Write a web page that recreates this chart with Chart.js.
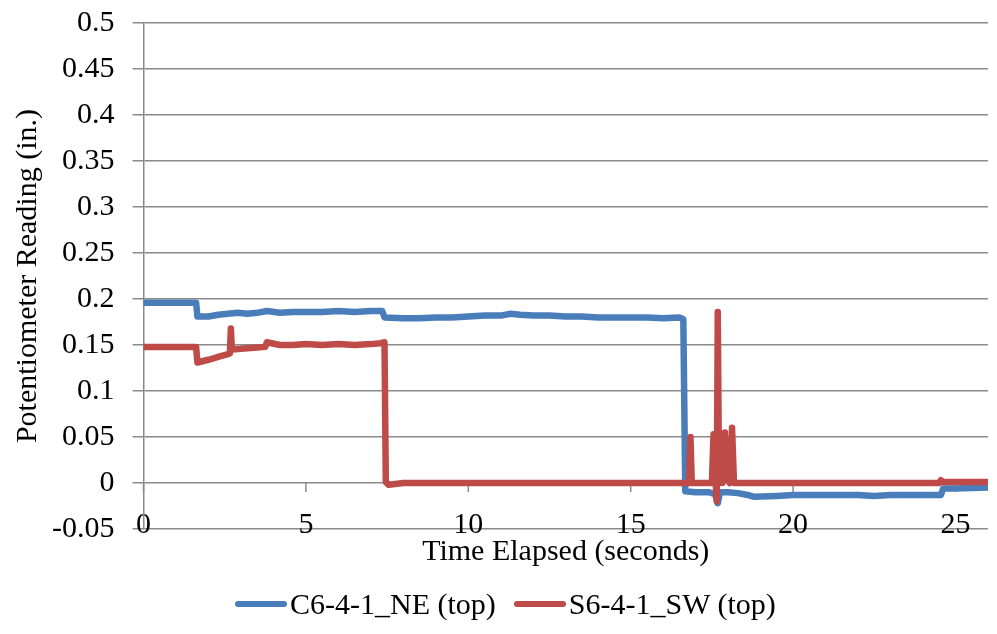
<!DOCTYPE html>
<html><head><meta charset="utf-8">
<script src="https://cdn.jsdelivr.net/npm/chart.js@4.4.1/dist/chart.umd.min.js"></script>
<style>
html,body{margin:0;padding:0;background:#fff;}
#wrap{position:relative;width:997px;height:634px;overflow:hidden;}
#legend{position:absolute;left:0;top:586px;height:36px;display:flex;align-items:center;padding-left:235px;font-family:"Liberation Serif","Times New Roman",serif;font-size:30px;color:#000;white-space:nowrap;}
.item{display:flex;align-items:center;margin-right:18px;}
.swatch{display:inline-block;width:52px;height:6px;border-radius:3px;margin-right:3px;}
</style></head>
<body><div id="wrap"><canvas id="c" width="997" height="634"></canvas><div id="legend"></div></div>
<script>
const seriesNames = ['C6-4-1_NE (top)', 'S6-4-1_SW (top)'];
const seriesColors = ['#4a7ebb', '#be4b48'];

const neTime = [0, 0.5, 1.0, 1.62, 1.66, 2.0, 2.3, 2.6, 2.9, 3.2, 3.5, 3.8, 4.2, 4.6, 5.0, 5.5, 6.0, 6.5, 7.0, 7.35, 7.42, 8.0, 8.5, 9.0, 9.5, 10.0, 10.5, 11.0, 11.3, 11.6, 12.0, 12.5, 13.0, 13.5, 14.0, 14.5, 15.0, 15.5, 16.0, 16.5, 16.62, 16.68, 17.0, 17.4, 17.6, 17.68, 17.75, 18.0, 18.3, 18.6, 18.8, 19.5, 20.0, 21.0, 22.0, 22.5, 23.0, 24.0, 24.55, 24.62, 25.0, 26.0];
const neValue = [0.196, 0.196, 0.196, 0.196, 0.181, 0.181, 0.183, 0.184, 0.185, 0.184, 0.185, 0.187, 0.185, 0.186, 0.186, 0.186, 0.187, 0.186, 0.187, 0.187, 0.180, 0.179, 0.179, 0.180, 0.180, 0.181, 0.182, 0.182, 0.184, 0.183, 0.182, 0.182, 0.181, 0.181, 0.180, 0.180, 0.180, 0.180, 0.179, 0.180, 0.178, -0.009, -0.010, -0.010, -0.012, -0.022, -0.010, -0.010, -0.011, -0.013, -0.015, -0.014, -0.013, -0.013, -0.013, -0.014, -0.013, -0.013, -0.013, -0.006, -0.006, -0.005];

const swTime = [0, 0.5, 1.0, 1.62, 1.66, 2.0, 2.3, 2.6, 2.66, 2.69, 2.72, 3.0, 3.4, 3.75, 3.8, 4.2, 4.6, 5.0, 5.5, 6.0, 6.5, 7.0, 7.3, 7.42, 7.46, 7.55, 8.0, 9.0, 10.0, 11.0, 12.0, 13.0, 14.0, 15.0, 16.0, 16.8, 16.84, 16.88, 17.5, 17.55, 17.6, 17.65, 17.68, 17.72, 17.78, 17.82, 17.9, 17.95, 18.05, 18.12, 18.18, 18.3, 19.0, 20.0, 21.0, 22.0, 23.0, 24.0, 24.5, 24.55, 24.6, 25.0, 26.0];
const swValue = [0.148, 0.148, 0.148, 0.148, 0.131, 0.134, 0.137, 0.140, 0.141, 0.168, 0.145, 0.146, 0.147, 0.148, 0.153, 0.150, 0.150, 0.151, 0.150, 0.151, 0.150, 0.151, 0.152, 0.153, 0.001, -0.002, 0.000, 0.000, 0.000, 0.000, 0.000, 0.000, 0.000, 0.000, 0.000, 0.000, 0.050, 0.000, 0.000, 0.053, 0.010, -0.020, 0.186, 0.000, 0.042, 0.000, 0.055, 0.005, 0.000, 0.060, 0.000, 0.000, 0.000, 0.000, 0.000, 0.000, 0.000, 0.000, 0.000, 0.003, 0.001, 0.001, 0.001];

const xTickLabels = ['0', '5', '10', '15', '20', '25'];
const yTickLabels = ['-0.05', '0', '0.05', '0.1', '0.15', '0.2', '0.25', '0.3', '0.35', '0.4', '0.45', '0.5'];
const xTitle = 'Time Elapsed (seconds)';
const yTitle = 'Potentiometer Reading (in.)';

const gridColor = '#8a8a8a';
const fontFamily = '"Liberation Serif", "Times New Roman", serif';

function toPoints(xs, ys) { return xs.map((x, i) => ({ x: x, y: ys[i] })); }
function labelFor(list, v) { const f = list.find(l => Math.abs(parseFloat(l) - v) < 1e-6); return f === undefined ? '' : f; }

const zeroAxisTicks = {
  id: 'zeroAxisTicks',
  beforeDatasetsDraw(chart) {
    const xs = chart.scales.x, ys = chart.scales.y, ctx = chart.ctx;
    const y0 = ys.getPixelForValue(0);
    ctx.save();
    ctx.strokeStyle = gridColor;
    ctx.lineWidth = 1.5;
    xs.ticks.forEach(t => {
      const px = xs.getPixelForValue(t.value);
      ctx.beginPath(); ctx.moveTo(px, y0); ctx.lineTo(px, y0 + 9); ctx.stroke();
    });
    ctx.restore();
  }
};

new Chart(document.getElementById('c'), {
  type: 'scatter',
  data: {
    datasets: [
      { label: seriesNames[0], data: toPoints(neTime, neValue), borderColor: seriesColors[0], backgroundColor: seriesColors[0], showLine: true, borderWidth: 6.5, pointRadius: 0, borderJoinStyle: 'round', borderCapStyle: 'round', order: 1 },
      { label: seriesNames[1], data: toPoints(swTime, swValue), borderColor: seriesColors[1], backgroundColor: seriesColors[1], showLine: true, borderWidth: 6.5, pointRadius: 0, borderJoinStyle: 'round', borderCapStyle: 'round', order: 0 }
    ]
  },
  options: {
    responsive: false,
    animation: false,
    layout: { padding: { left: 6, right: 9, top: 0, bottom: 60 } },
    plugins: { legend: { display: false }, tooltip: { enabled: false } },
    scales: {
      x: {
        type: 'linear', min: 0, max: 26,
        grid: { display: false, drawTicks: false },
        border: { display: false },
        ticks: { stepSize: 5, includeBounds: false, mirror: true, padding: -14, color: '#000', font: { family: fontFamily, size: 30 }, maxRotation: 0, callback: v => labelFor(xTickLabels, v) },
        title: { display: true, text: xTitle, color: '#000', font: { family: fontFamily, size: 30 }, padding: { top: 33, bottom: 4 } }
      },
      y: {
        min: -0.05, max: 0.5,
        grid: { color: gridColor, lineWidth: 1.5, tickLength: 11, drawTicks: true },
        border: { display: true, color: gridColor, width: 1.5 },
        ticks: { stepSize: 0.05, padding: 18, color: '#000', font: { family: fontFamily, size: 30, lineHeight: 0.34 }, callback: v => labelFor(yTickLabels, v) },
        title: { display: true, text: yTitle, color: '#000', font: { family: fontFamily, size: 30 }, padding: { top: 4, bottom: -12 } }
      }
    }
  },
  plugins: [zeroAxisTicks]
});

const legendEl = document.getElementById('legend');
seriesNames.forEach((name, i) => {
  const item = document.createElement('div'); item.className = 'item';
  const sw = document.createElement('span'); sw.className = 'swatch'; sw.style.background = seriesColors[i];
  const tx = document.createElement('span'); tx.textContent = name;
  item.appendChild(sw); item.appendChild(tx); legendEl.appendChild(item);
});
</script></body></html>
